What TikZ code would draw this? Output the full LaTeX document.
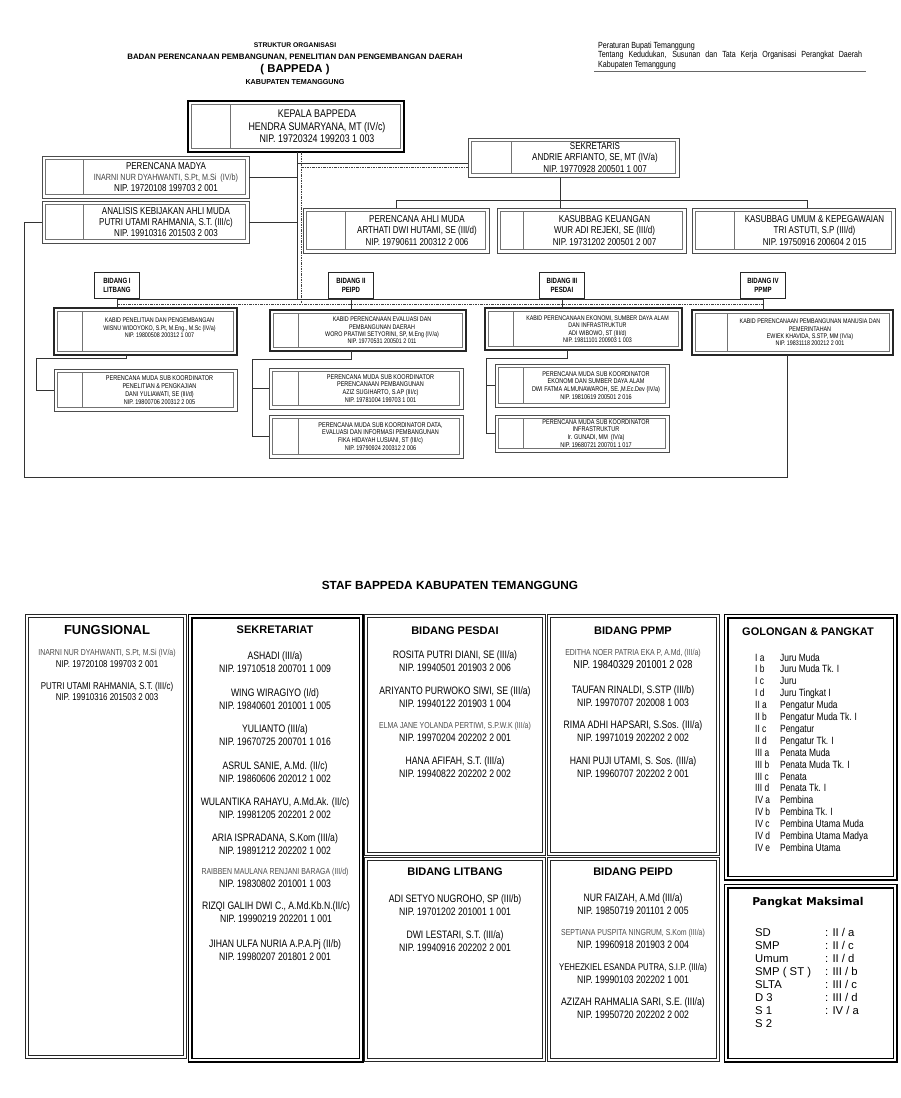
\documentclass[tikz,border=0pt]{standalone}
\usepackage{fontspec}
\setmainfont{Liberation Sans}
\newfontfamily\narrowfont[FakeStretch=0.8]{Liberation Sans}
\newfontfamily\heavyfont{DejaVu Sans}
\usepackage{tikz}
\usetikzlibrary{positioning, calc, fit}

\newcommand{\fsz}[2]{\fontsize{#1}{#2}\selectfont}
\newcommand{\smallname}[1]{{\narrowfont\fsz{8.7}{10}\color{black!70}#1}}

% unit box: name, style, x1, y1, x2, y2, divider x, text
\newcommand{\unitbox}[8]{%
  \node[#2, fit={(#3,#4) (#5,#6)}] (#1) {};
  \draw[innerline] ([shift={(3.5,3.5)}]#1.north west) rectangle ([shift={(-3.5,-3.5)}]#1.south east);
  \draw[innerline] (#7,#4+3.5) -- (#7,#6-3.5);
  \node[#2 text] (#1-t) at ({(#7+#5)/2},{(#4+#6)/2}) {#8};
}

\begin{document}
\begin{tikzpicture}[
  x=1pt, y=-1pt,
  conn/.style={draw=black!80, line width=0.8pt},
  dashdot/.style={draw=black!75, line width=0.8pt, dash pattern=on 2.5pt off 1.2pt on 0.6pt off 1.2pt},
  headbox/.style={draw=black, line width=2.6pt, inner sep=0pt, outer sep=0pt},
  headbox text/.style={font={\narrowfont\fsz{11.1}{12.6}}, align=center, inner sep=0pt},
  unitbx/.style={draw=black!70, line width=1pt, inner sep=0pt, outer sep=0pt},
  unitbx text/.style={font={\narrowfont\fsz{10}{10.6}}, align=center, inner sep=0pt},
  secbx/.style={draw=black!70, line width=1pt, inner sep=0pt, outer sep=0pt},
  secbx text/.style={font={\narrowfont\fsz{10}{11.3}}, align=center, inner sep=0pt},
  kabidbx/.style={draw=black!85, line width=1.8pt, inner sep=0pt, outer sep=0pt},
  kabidbx text/.style={font={\narrowfont\fsz{6.7}{7.4}}, align=center, inner sep=0pt},
  subbx/.style={draw=black!70, line width=1pt, inner sep=0pt, outer sep=0pt},
  subbx text/.style={font={\narrowfont\fsz{6.9}{7.8}}, align=center, inner sep=0pt},
  innerline/.style={draw=black!55, line width=0.6pt},
  bidang/.style={draw=black!85, line width=1.2pt, minimum width=45pt, minimum height=26pt,
    inner sep=1pt, align=center, font={\narrowfont\bfseries\fsz{7.6}{9}}},
  panel/.style={draw=black!85, double=white, double distance=1.8pt, line width=0.8pt, inner sep=0pt},
  heavypanel/.style={draw=black, double=white, double distance=1.8pt, line width=1.6pt, inner sep=0pt},
  paneltitle/.style={font={\bfseries\fsz{11}{13}}, inner sep=0pt},
  staff/.style={font={\narrowfont\fsz{10.8}{13}}, align=center, inner sep=0pt},
  staffsm/.style={font={\narrowfont\fsz{9.9}{11.3}}, align=center, inner sep=0pt}
]
  \useasboundingbox (0,0) rectangle (900,1098);

  % Header
  \node[font={\bfseries\fsz{6.8}{8}}] (title1) at (295,45) {STRUKTUR ORGANISASI};
  \node[font={\bfseries\fsz{7.9}{9}}] (title2) at (295,57) {BADAN PERENCANAAN PEMBANGUNAN, PENELITIAN DAN PENGEMBANGAN DAERAH};
  \node[font={\bfseries\fsz{11.3}{14}}] (title3) at (295,70) {( BAPPEDA )};
  \node[font={\bfseries\fsz{7.2}{8}}] (title4) at (295,82) {KABUPATEN TEMANGGUNG};
  \node[anchor=north west, inner sep=0pt, align=left, font={\narrowfont\fsz{8.9}{9.6}}] (perbup) at (598,41.5)
    {Peraturan Bupati Temanggung\\\makebox[264pt][s]{Tentang Kedudukan, Susunan dan Tata Kerja Organisasi Perangkat Daerah}\\Kabupaten Temanggung};
  \draw[line width=1pt, black!60] (594,71) -- (866,71);

  % Top level
  \unitbox{kepala}{headbox}{188}{101}{404}{152}{230}{KEPALA BAPPEDA\\HENDRA SUMARYANA, MT (IV/c)\\NIP. 19720324 199203 1 003}
  \unitbox{madya}{unitbx}{42}{156}{249}{198}{83}{PERENCANA MADYA\\{\fsz{9}{10.6}\color{black!75}INARNI NUR DYAHWANTI, S.Pt, M.Si~~(IV/b)}\\NIP. 19720108 199703 2 001}
  \unitbox{analis}{unitbx}{42}{201}{249}{243}{83}{ANALISIS KEBIJAKAN AHLI MUDA\\PUTRI UTAMI RAHMANIA, S.T. (III/c)\\NIP. 19910316 201503 2 003}
  \unitbox{sekre}{secbx}{468}{138}{679}{177}{511}{SEKRETARIS\\ANDRIE ARFIANTO, SE, MT (IV/a)\\NIP. 19770928 200501 1 007}

  % Sekretariat row
  \unitbox{ahli}{secbx}{303}{208}{489}{253}{345}{PERENCANA AHLI MUDA\\ARTHATI DWI HUTAMI, SE (III/d)\\NIP. 19790611 200312 2 006}
  \unitbox{keu}{secbx}{497}{208}{686}{253}{523}{KASUBBAG KEUANGAN\\WUR ADI REJEKI, SE (III/d)\\NIP. 19731202 200501 2 007}
  \unitbox{umum}{secbx}{692}{208}{895}{253}{734}{KASUBBAG UMUM \& KEPEGAWAIAN\\TRI ASTUTI, S.P (III/d)\\NIP. 19750916 200604 2 015}

  % Main line and links
  \coordinate (trunk) at (297,299);
  \coordinate (cline) at (301,304);
  \draw[conn] (kepala.south -| trunk) -- (trunk);
  \draw[conn] (madya.east) -- (madya.east -| trunk);
  \draw[conn] (analis.east) -- (analis.east -| trunk);
  \draw[conn] (trunk |- 0,163) -- (sekre.west |- 0,163);
  \draw[dashdot] (kepala.south -| cline) -- (cline);
  \draw[dashdot] (cline |- 0,167) -- (sekre.west |- 0,167);

  \coordinate (sb1) at (396,200);
  \coordinate (sb2) at (560,200);
  \coordinate (sb3) at (807,200);
  \draw[conn] (sb1 |- ahli.north) -- (sb1) -- (sb3) -- (sb3 |- umum.north);
  \draw[conn] (sekre.south -| sb2) -- (sb2 |- keu.north);

  % Bidang labels
  \node[bidang] (bid1) at (117,285.5) {BIDANG I\\LITBANG};
  \node[bidang] (bid2) at (351,285.5) {BIDANG II\\PEIPD};
  \node[bidang] (bid3) at (562,285.5) {BIDANG III\\PESDAI};
  \node[bidang] (bid4) at (763,285.5) {BIDANG IV\\PPMP};

  % Kabid boxes
  \unitbox{kab1}{kabidbx}{54}{308}{237}{355}{82}{KABID PENELITIAN DAN PENGEMBANGAN\\WISNU WIDOYOKO, S.Pt, M.Eng., M.Sc (IV/a)\\NIP. 19800508 200312 1 007\\ }
  \unitbox{kab2}{kabidbx}{270}{310}{466}{351}{298}{KABID PERENCANAAN EVALUASI DAN\\PEMBANGUNAN DAERAH\\WORO PRATIWI SETYORINI, SP, M.Eng (IV/a)\\NIP. 19770531 200501 2 011}
  \unitbox{kab3}{kabidbx}{485}{308}{682}{350}{513}{KABID PERENCANAAN EKONOMI, SUMBER DAYA ALAM\\DAN INFRASTRUKTUR\\ADI WIBOWO, ST (III/d)\\NIP. 19811101 200903 1 003}
  \unitbox{kab4}{kabidbx}{692}{310}{893}{355}{727}{KABID PERENCANAAN PEMBANGUNAN MANUSIA DAN\\PEMERINTAHAN\\EWIEK KHAVIDA, S.STP, MM (IV/a)\\NIP. 19831118 200212 2 001}

  \draw[conn] (bid1.south) -- (bid4.south);
  \draw[dashdot] (cline -| bid1.south) -- (cline -| bid4.south);
  \draw[conn] (bid1.south) -- (bid1.south |- kab1.north);
  \draw[conn] (bid2.south) -- (bid2.south |- kab2.north);
  \draw[conn] (bid3.south) -- (bid3.south |- kab3.north);
  \draw[conn] (bid4.south) -- (bid4.south |- kab4.north);

  % Sub koordinator boxes
  \unitbox{sub1}{subbx}{54}{369}{237}{411}{82}{PERENCANA MUDA SUB KOORDINATOR\\PENELITIAN \& PENGKAJIAN\\DANI YULIAWATI, SE (III/d)\\NIP. 19800706 200312 2 005}
  \unitbox{sub2a}{subbx}{269}{368}{463}{409}{298}{PERENCANA MUDA SUB KOORDINATOR\\PERENCANAAN PEMBANGUNAN\\AZIZ SUGIHARTO, S.AP (III/c)\\NIP. 19781004 199703 1 001}
  \unitbox{sub2b}{subbx}{269}{415}{463}{458}{298}{PERENCANA MUDA SUB KOORDINATOR DATA,\\EVALUASI DAN INFORMASI PEMBANGUNAN\\FIKA HIDAYAH LUSIANI, ST (III/c)\\NIP. 19790924 200312 2 006}
  \unitbox{sub3a}{subbx}{495}{364}{669}{407}{523}{PERENCANA MUDA SUB KOORDINATOR\\EKONOMI DAN SUMBER DAYA ALAM\\DWI FATMA ALMUNAWAROH, SE.,M.Ec.Dev (IV/a)\\NIP. 19810619 200501 2 016}
  \unitbox{sub3b}{subbx}{495}{415}{669}{452}{523}{PERENCANA MUDA SUB KOORDINATOR\\INFRASTRUKTUR\\Ir. GUNADI, MM~~(IV/a)\\NIP. 19680721 200701 1 017}

  \coordinate (l1) at (126,358);
  \coordinate (l1b) at (36,358);
  \draw[conn] (kab1.south -| l1) -- (l1) -- (l1b) -- (l1b |- sub1.west) -- (sub1.west);
  \coordinate (l2) at (351,359);
  \coordinate (l2b) at (252,359);
  \draw[conn] (kab2.south -| l2) -- (l2) -- (l2b) -- (l2b |- sub2b.west) -- (sub2b.west);
  \draw[conn] (l2b |- sub2a.west) -- (sub2a.west);
  \coordinate (l3) at (567,358);
  \coordinate (l3b) at (486,358);
  \draw[conn] (kab3.south -| l3) -- (l3) -- (l3b) -- (l3b |- sub3b.west) -- (sub3b.west);
  \draw[conn] (l3b |- sub3a.west) -- (sub3a.west);

  % Outer frame line
  \coordinate (frl) at (24,477);
  \coordinate (frr) at (787,477);
  \draw[conn] (analis.west) -- (analis.west -| frl) -- (frl) -- (frr) -- (frr |- kab4.south);

  % Staff section
  \node[font={\bfseries\fsz{11.8}{13}}] (staftitle) at (450,585) {STAF BAPPEDA KABUPATEN TEMANGGUNG};

  \node[panel, fit={(27,616) (185,1057)}] (fung) {};
  \node[heavypanel, fit={(190,616) (361,1060)}] (sekr) {};
  \node[panel, fit={(366,616) (544,854)}] (pesdai) {};
  \node[panel, fit={(549,616) (718,854)}] (ppmp) {};
  \node[panel, fit={(366,859) (544,1060)}] (litbang) {};
  \node[panel, fit={(549,859) (718,1060)}] (peipd) {};
  \node[heavypanel, fit={(726,616) (895,878)}] (golongan) {};
  \node[heavypanel, fit={(726,886) (895,1060)}] (pangkat) {};

  \node[paneltitle, font={\bfseries\fsz{13}{14}}] (fung-t) at (107,630) {FUNGSIONAL};
  \node[paneltitle] (sekr-t) at (275,630) {SEKRETARIAT};
  \node[paneltitle] (pesdai-t) at (455,631) {BIDANG PESDAI};
  \node[paneltitle] (ppmp-t) at (633,631) {BIDANG PPMP};
  \node[paneltitle] (litbang-t) at (455,872) {BIDANG LITBANG};
  \node[paneltitle] (peipd-t) at (633,872) {BIDANG PEIPD};
  \node[paneltitle] (golongan-t) at (808,632) {GOLONGAN \& PANGKAT};
  \node[paneltitle, font={\heavyfont\bfseries\fsz{10.8}{12}}] (pangkat-t) at (808,903) {Pangkat Maksimal};

  % Fungsional
  \node[staffsm] (fung-1) at (107,658.5) {\smallname{INARNI NUR DYAHWANTI, S.Pt, M.Si (IV/a)}\\NIP. 19720108 199703 2 001};
  \node[staffsm] (fung-2) at (107,691.5) {PUTRI UTAMI RAHMANIA, S.T. (III/c)\\NIP. 19910316 201503 2 003};

  % Sekretariat
  \node[staff] (sekr-1) at (275,662.5) {ASHADI (III/a)\\NIP. 19710518 200701 1 009};
  \node[staff] (sekr-2) at (275,699.5) {WING WIRAGIYO (I/d)\\NIP. 19840601 201001 1 005};
  \node[staff] (sekr-3) at (275,735.5) {YULIANTO (III/a)\\NIP. 19670725 200701 1 016};
  \node[staff] (sekr-4) at (275,772) {ASRUL SANIE, A.Md. (II/c)\\NIP. 19860606 202012 1 002};
  \node[staff] (sekr-5) at (275,808.5) {WULANTIKA RAHAYU, A.Md.Ak. (II/c)\\NIP. 19981205 202201 2 002};
  \node[staff] (sekr-6) at (275,844) {ARIA ISPRADANA, S.Kom (III/a)\\NIP. 19891212 202202 1 002};
  \node[staff] (sekr-7) at (275,877.5) {\smallname{RAIBBEN MAULANA RENJANI BARAGA (III/d)}\\NIP. 19830802 201001 1 003};
  \node[staff] (sekr-8) at (276,912.5) {RIZQI GALIH DWI C., A.Md.Kb.N.(II/c)\\NIP. 19990219 202201 1 001};
  \node[staff] (sekr-9) at (275,950) {JIHAN ULFA NURIA A.P.A.Pj (II/b)\\NIP. 19980207 201801 2 001};

  % Bidang Pesdai
  \node[staff] (pesdai-1) at (455,661) {ROSITA PUTRI DIANI, SE (III/a)\\NIP. 19940501 201903 2 006};
  \node[staff] (pesdai-2) at (455,697.5) {ARIYANTO PURWOKO SIWI, SE (III/a)\\NIP. 19940122 201903 1 004};
  \node[staff] (pesdai-3) at (455,731.5) {\smallname{ELMA JANE YOLANDA PERTIWI, S.P.W.K (III/a)}\\NIP. 19970204 202202 2 001};
  \node[staff] (pesdai-4) at (455,767.5) {HANA AFIFAH, S.T. (III/a)\\NIP. 19940822 202202 2 002};

  % Bidang PPMP
  \node[staff] (ppmp-1) at (633,659) {\smallname{EDITHA NOER PATRIA EKA P, A.Md, (III/a)}\\{\fsz{11.5}{13}NIP. 19840329 201001 2 028}};
  \node[staff] (ppmp-2) at (633,696) {TAUFAN RINALDI, S.STP (III/b)\\NIP. 19970707 202008 1 003};
  \node[staff] (ppmp-3) at (633,731.5) {RIMA ADHI HAPSARI, S.Sos. (III/a)\\NIP. 19971019 202202 2 002};
  \node[staff] (ppmp-4) at (633,767.5) {HANI PUJI UTAMI, S. Sos. (III/a)\\NIP. 19960707 202202 2 001};

  % Bidang Litbang
  \node[staff] (litbang-1) at (455,905.5) {ADI SETYO NUGROHO, SP (III/b)\\NIP. 19701202 201001 1 001};
  \node[staff] (litbang-2) at (455,941.5) {DWI LESTARI, S.T. (III/a)\\NIP. 19940916 202202 2 001};

  % Bidang Peipd
  \node[staff] (peipd-1) at (633,904) {NUR FAIZAH, A.Md (III/a)\\NIP. 19850719 201101 2 005};
  \node[staff] (peipd-2) at (633,938.5) {\smallname{SEPTIANA PUSPITA NINGRUM, S.Kom (III/a)}\\NIP. 19960918 201903 2 004};
  \node[staff] (peipd-3) at (633,973.5) {{\fsz{9.7}{13}YEHEZKIEL ESANDA PUTRA, S.I.P. (III/a)}\\NIP. 19990103 202202 1 001};
  \node[staff] (peipd-4) at (633,1008) {AZIZAH RAHMALIA SARI, S.E. (III/a)\\NIP. 19950720 202202 2 002};

  % Golongan & pangkat list
  \node[anchor=north west, inner sep=0pt, font={\narrowfont\fsz{10.5}{11.9}}] (golongan-list) at (755,652.5) {%
    \begin{tabular}{@{}p{25pt}@{}l@{}}
      I a & Juru Muda\\ I b & Juru Muda Tk. I\\ I c & Juru\\ I d & Juru Tingkat I\\
      II a & Pengatur Muda\\ II b & Pengatur Muda Tk. I\\ II c & Pengatur\\ II d & Pengatur Tk. I\\
      III a & Penata Muda\\ III b & Penata Muda Tk. I\\ III c & Penata\\ III d & Penata Tk. I\\
      IV a & Pembina\\ IV b & Pembina Tk. I\\ IV c & Pembina Utama Muda\\ IV d & Pembina Utama Madya\\
      IV e & Pembina Utama
    \end{tabular}};

  % Pangkat maksimal list
  \node[anchor=north west, inner sep=0pt, font={\fsz{11.3}{13}}] (pangkat-list) at (755,927) {%
    \begin{tabular}{@{}p{70pt}@{}l@{}}
      SD & : II / a\\ SMP & : II / c\\ Umum & : II / d\\ SMP ( ST ) & : III / b\\
      SLTA & : III / c\\ D 3 & : III / d\\ S 1 & : IV / a\\ S 2 &
    \end{tabular}};
\end{tikzpicture}
\end{document}
